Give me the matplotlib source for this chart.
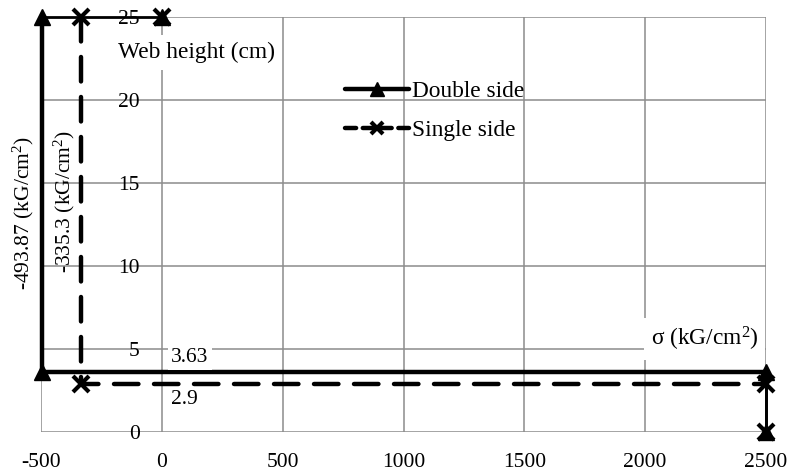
import matplotlib
matplotlib.use("Agg")
import matplotlib.pyplot as plt
from matplotlib.lines import Line2D

# web height vs stress, double side and single side
double_x = [0, -493.87, -493.87, 2500, 2500]
double_y = [25, 25, 3.63, 3.63, 0]
single_x = [0, -335.3, -335.3, 2500, 2500]
single_y = [25, 25, 2.9, 2.9, 0]

x_ticks = [-500, 0, 500, 1000, 1500, 2000, 2500]
y_ticks = [0, 5, 10, 15, 20, 25]

plt.rcParams["font.family"] = ["Liberation Serif", "DejaVu Serif"]
plt.rcParams["axes.unicode_minus"] = False
plt.rcParams["mathtext.fontset"] = "custom"
plt.rcParams["mathtext.rm"] = "Liberation Serif"
plt.rcParams["mathtext.it"] = "Liberation Serif:italic"
fs = 15.5
fs_big = 16.8

fig = plt.figure(figsize=(7.9, 4.75), dpi=100)
ax = fig.add_axes([41 / 790, 1 - 432 / 475, 725 / 790, 415 / 475])

ax.set_xlim(-500, 2500)
ax.set_ylim(0, 25)
ax.set_xticks(x_ticks)
ax.set_yticks(y_ticks)
ax.grid(True, color="#8c8c8c", linewidth=1.1)
ax.set_axisbelow(True)
for s in ax.spines.values():
    s.set_visible(False)
ax.spines["left"].set_position(("data", 0))
ax.tick_params(axis="both", length=0, labelsize=fs)
ax.tick_params(axis="y", pad=16)
ax.tick_params(axis="x", pad=15)

# thin connecting segments at top and right
ax.plot(double_x[:2], double_y[:2], color="black", lw=2, clip_on=False)
ax.plot(double_x[3:], double_y[3:], color="black", lw=2, clip_on=False)
ax.plot(single_x[3:], single_y[3:], color="black", lw=2, clip_on=False)

# main series
ax.plot(double_x[1:4], double_y[1:4], color="black", lw=3.2,
        solid_capstyle="butt", clip_on=False)
ax.plot(single_x[1:4], single_y[1:4], color="black", lw=3.2,
        dashes=(5.5, 3.5), dash_capstyle="round", clip_on=False)

ax.plot(double_x, double_y, ls="none", marker="^", ms=12, color="black",
        clip_on=False, zorder=5)
ax.plot(single_x, single_y, ls="none", marker="x", ms=11, mew=3,
        color="black", clip_on=False, zorder=5)

unit = r"(kG/cm$^{2}$)"
box = dict(facecolor="white", edgecolor="none", boxstyle="square,pad=0.3")
ax.text(143, 22.85, "Web height (cm)", fontsize=fs_big, ha="center",
        va="center", bbox=box)
ax.text(2245, 5.6, "σ " + unit, fontsize=fs_big, ha="center", va="center",
        bbox=box)
ax.text(116, 4.5, "3.63", fontsize=fs, ha="center", va="center",
        bbox=dict(facecolor="white", edgecolor="none", boxstyle="square,pad=0.15"))
ax.text(95, 1.95, "2.9", fontsize=fs, ha="center", va="center",
        bbox=dict(facecolor="white", edgecolor="none", boxstyle="square,pad=0.15"))

ax.text(-574, 13.2, "-493.87 " + unit, fontsize=fs, rotation=90,
        ha="center", va="center", clip_on=False)
ax.text(-403, 13.9, "-335.3 " + unit, fontsize=fs, rotation=90,
        ha="center", va="center", clip_on=False)

handles = [
    Line2D([], [], color="black", lw=3.2, marker="^", ms=10,
           solid_capstyle="round"),
    Line2D([], [], color="black", lw=3.2, marker="x", ms=9, mew=3,
           dashes=(2.5, 1.5), dash_capstyle="round"),
]
ax.legend(handles, ["Double side", "Single side"], loc="upper left",
          bbox_to_anchor=(0.419, 0.847), frameon=False, fontsize=fs_big,
          handlelength=2.75, handletextpad=0.15, labelspacing=0.78,
          borderpad=0, borderaxespad=0)

fig.savefig("out.png", dpi=100)
